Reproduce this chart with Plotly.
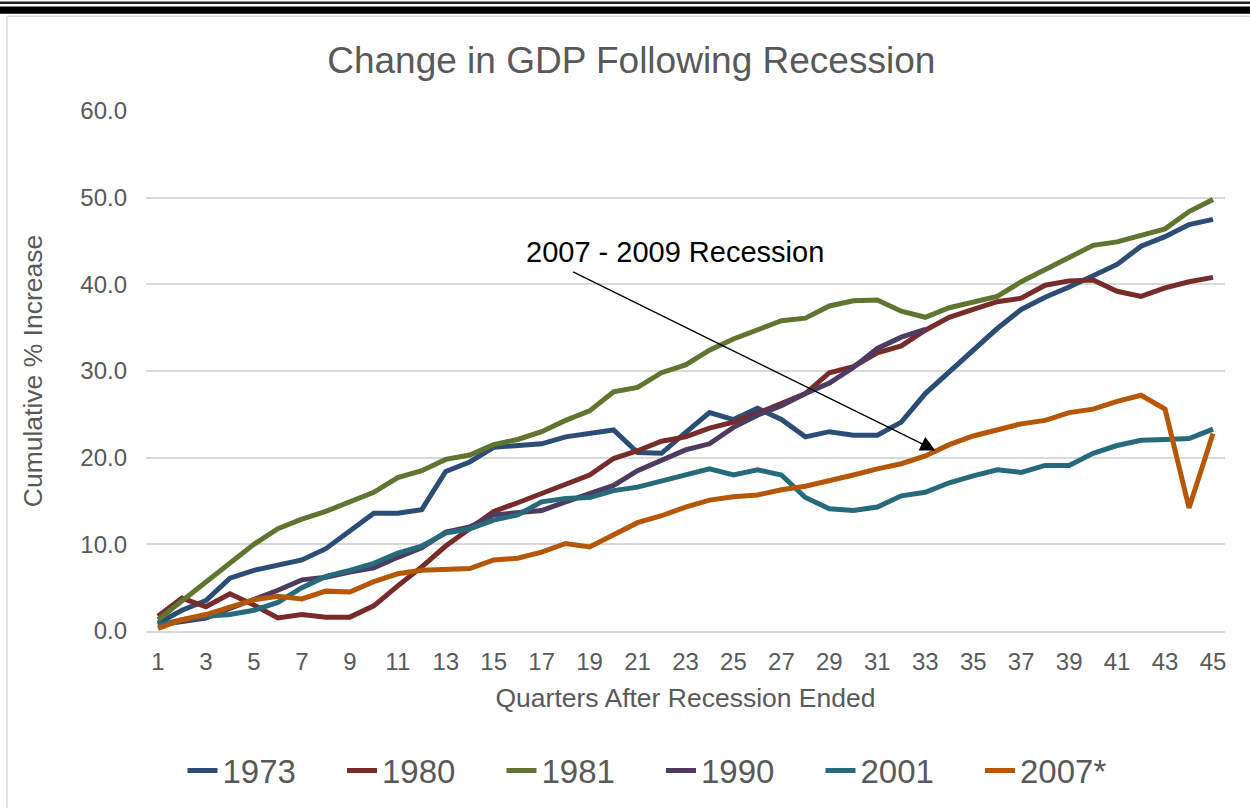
import plotly.graph_objects as go

quarters = list(range(1, 46))
tick_vals = quarters[::2]
tick_text = [str(q) for q in tick_vals]

s1973 = [0.9, 2.4, 3.5, 6.1, 7.0, 7.6, 8.2, 9.5, 11.6, 13.6, 13.6, 14.0, 18.4, 19.5, 21.2,
         21.4, 21.6, 22.4, 22.8, 23.2, 20.6, 20.5, 22.9, 25.2, 24.4, 25.7, 24.4, 22.4, 23.0, 22.6,
         22.6, 24.1, 27.4, 29.9, 32.4, 34.9, 37.1, 38.5, 39.7, 41.0, 42.3, 44.4, 45.5, 46.9, 47.5]
s1980 = [1.7, 3.8, 2.8, 4.3, 3.0, 1.5, 1.9, 1.6, 1.6, 2.9, 5.2, 7.4, 9.8, 11.8, 13.8,
         14.8, 15.9, 17.0, 18.0, 19.9, 20.8, 21.9, 22.4, 23.4, 24.1, 25.1, 26.3, 27.4, 29.8, 30.5,
         32.1, 32.9, 34.7, 36.2, 37.1, 38.0, 38.4, 39.9, 40.4, 40.5, 39.2, 38.6, 39.6, 40.3, 40.8]
s1981 = [1.3, 3.5, 5.7, 7.9, 10.0, 11.8, 12.9, 13.8, 14.9, 16.0, 17.7, 18.5, 19.8, 20.3, 21.5,
         22.1, 23.0, 24.3, 25.4, 27.6, 28.1, 29.8, 30.7, 32.4, 33.7, 34.7, 35.8, 36.1, 37.5, 38.1,
         38.2, 36.9, 36.2, 37.3, 38.0, 38.6, 40.3, 41.7, 43.0, 44.5, 44.9, 45.7, 46.4, 48.4, 49.8]
s1990 = [0.7, 1.1, 1.5, 2.6, 3.6, 4.7, 5.9, 6.2, 6.8, 7.3, 8.5, 9.6, 11.4, 12.0, 13.4,
         13.7, 13.9, 14.9, 15.9, 16.8, 18.5, 19.7, 20.9, 21.6, 23.5, 24.9, 26.0, 27.4, 28.6, 30.4,
         32.6, 33.9, 34.8]
s2001 = [0.65, 1.3, 1.7, 1.9, 2.4, 3.3, 5.0, 6.3, 7.0, 7.8, 9.0, 9.8, 11.3, 11.8, 12.8,
         13.4, 14.9, 15.3, 15.4, 16.2, 16.6, 17.3, 18.1, 18.7, 18.0, 18.6, 18.0, 15.4, 14.1, 13.9,
         14.3, 15.6, 16.0, 17.1, 17.9, 18.6, 18.3, 19.1, 19.1, 20.5, 21.4, 22.0, 22.1, 22.2, 23.3]
s2007 = [0.3, 1.3, 1.9, 2.8, 3.6, 4.0, 3.7, 4.6, 4.5, 5.7, 6.6, 7.0, 7.1, 7.2, 8.2,
         8.4, 9.1, 10.1, 9.7, 11.1, 12.5, 13.3, 14.3, 15.1, 15.5, 15.7, 16.3, 16.7, 17.3, 18.0,
         18.7, 19.3, 20.2, 21.5, 22.5, 23.2, 23.9, 24.3, 25.2, 25.6, 26.5, 27.2, 25.6, 14.2, 22.8]

series_names = ["1973", "1980", "1981", "1990", "2001", "2007*"]
series_values = [s1973, s1980, s1981, s1990, s2001, s2007]
colors = ["#2C4D75", "#772C2A", "#5F7530", "#4D3B62", "#276A7C", "#B65708"]

W, H = 1250, 811
PL, PR, PT, PB = 146, 1225, 111, 633

def px_x(p):
    return (p - PL) / (PR - PL)

def px_y(p):
    return (PB - p) / (PB - PT)

FONT = "Liberation Sans, Arial, sans-serif"
GREY = "#595959"

fig = go.Figure()
for name, vals, col in zip(series_names, series_values, colors):
    fig.add_trace(go.Scatter(
        x=quarters[:len(vals)], y=vals, name=name, mode="lines",
        line=dict(color=col, width=5, shape="linear"),
    ))

shapes = [
    dict(type="rect", xref="paper", yref="paper", x0=px_x(0), x1=px_x(W), y0=px_y(3.5), y1=px_y(1),
         fillcolor="#222222", line=dict(width=0), layer="above"),
    dict(type="rect", xref="paper", yref="paper", x0=px_x(0), x1=px_x(W), y0=px_y(13.5), y1=px_y(6),
         fillcolor="#000000", line=dict(width=0), layer="above"),
    dict(type="line", xref="paper", yref="paper", x0=px_x(7), x1=px_x(W), y0=px_y(16), y1=px_y(16),
         line=dict(color="#D9D9D9", width=1.5)),
    dict(type="line", xref="paper", yref="paper", x0=px_x(7), x1=px_x(7), y0=px_y(16), y1=px_y(H),
         line=dict(color="#D9D9D9", width=1.5)),
]

annotations = [
    dict(x=33.42, y=20.84, xref="x", yref="y", ax=18.25, ay=41.53, axref="x", ayref="y",
         text="", showarrow=True, arrowhead=2, arrowsize=2.3, arrowwidth=1.3, arrowcolor="black"),
    dict(x=px_x(674.5), y=px_y(253), xref="paper", yref="paper", text="2007 - 2009 Recession",
         showarrow=False, xanchor="center", yanchor="middle",
         font=dict(family=FONT, size=29, color="black")),
]

fig.update_layout(
    width=W, height=H, autosize=False,
    margin=dict(l=PL, r=W - PR, t=PT, b=H - PB),
    paper_bgcolor="white", plot_bgcolor="white",
    font=dict(family=FONT, color=GREY),
    title=dict(text="Change in GDP Following Recession", x=0.505, xanchor="center",
               y=1 - 60 / H, yanchor="middle", font=dict(family=FONT, size=37, color=GREY)),
    xaxis=dict(range=[0.5, 45.5], tickmode="array", tickvals=tick_vals, ticktext=tick_text,
               showgrid=False, zeroline=False, showline=True, linecolor="#D9D9D9", linewidth=1.5,
               ticks="", ticklabelstandoff=8, tickfont=dict(size=24, color=GREY),
               title=dict(text="Quarters After Recession Ended", standoff=15,
                          font=dict(size=26.5, color=GREY))),
    yaxis=dict(range=[0, 60], dtick=10, tickformat=".1f", showgrid=True, gridcolor="#D9D9D9",
               gridwidth=1.5, zeroline=False, showline=False, ticks="", ticklabelstandoff=18,
               tickfont=dict(size=24, color=GREY),
               title=dict(text="Cumulative % Increase", standoff=30,
                          font=dict(size=26.5, color=GREY))),
    legend=dict(orientation="h", x=px_x(661), xanchor="center", y=px_y(773), yanchor="middle",
                font=dict(size=33, color=GREY), entrywidth=114.5, entrywidthmode="pixels",
                bgcolor="rgba(0,0,0,0)"),
    shapes=shapes,
    annotations=annotations,
)

fig.write_html("out.html", config={"displayModeBar": False},
               post_script="document.body.style.margin='0';")
